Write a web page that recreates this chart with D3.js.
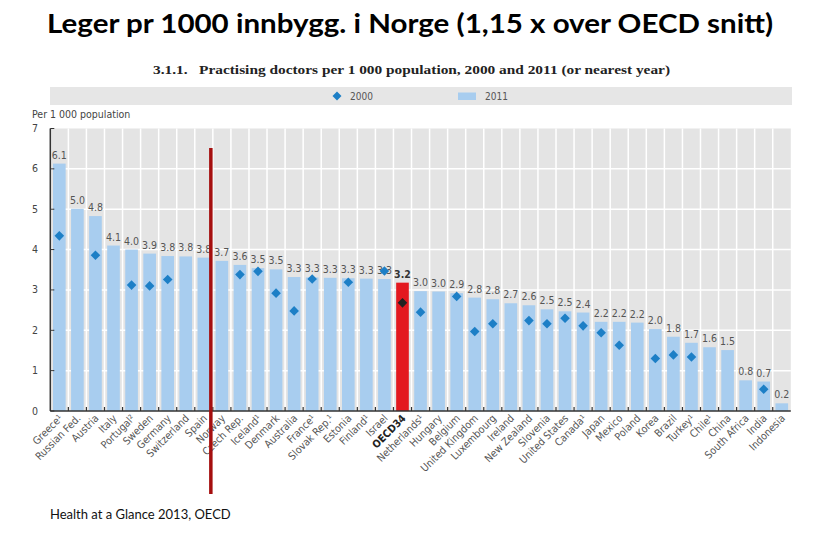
<!DOCTYPE html>
<html>
<head>
<meta charset="utf-8">
<script src="https://cdn.jsdelivr.net/npm/d3@7"></script>
<style>
  html, body { margin: 0; padding: 0; background: #fff; }
  svg { display: block; }
</style>
</head>
<body>
<script>
// ---------- DATA ----------
const countries = ["Greece¹", "Russian Fed.", "Austria", "Italy", "Portugal²", "Sweden", "Germany", "Switzerland", "Spain", "Norway",
  "Czech Rep.", "Iceland¹", "Denmark", "Australia", "France¹", "Slovak Rep.¹", "Estonia", "Finland¹", "Israel", "OECD34",
  "Netherlands¹", "Hungary", "Belgium", "United Kingdom", "Luxembourg", "Ireland", "New Zealand", "Slovenia", "United States", "Canada¹",
  "Japan", "Mexico", "Poland", "Korea", "Brazil", "Turkey¹", "Chile¹", "China", "South Africa", "India", "Indonesia"];
const values2011 = [6.13, 5.01, 4.83, 4.10, 4.00, 3.90, 3.84, 3.83, 3.80, 3.72,
  3.62, 3.54, 3.51, 3.32, 3.31, 3.30, 3.29, 3.28, 3.27, 3.18,
  2.97, 2.96, 2.92, 2.81, 2.77, 2.67, 2.62, 2.52, 2.47, 2.44,
  2.21, 2.21, 2.19, 2.03, 1.84, 1.69, 1.58, 1.51, 0.76, 0.73, 0.19];
const values2000 = [4.34, null, 3.86, null, 3.12, 3.10, 3.26, null, null, null,
  3.38, 3.46, 2.92, 2.48, 3.27, null, 3.19, null, 3.47, 2.68,
  2.45, null, 2.84, 1.97, 2.16, null, 2.24, 2.16, 2.30, 2.11,
  1.94, 1.63, null, 1.30, 1.39, 1.34, null, null, null, 0.54, null];
const yTicks = [0, 1, 2, 3, 4, 5, 6, 7];
const highlight = "OECD34";
const markerCountry = "Norway";
const mainTitle = "Leger pr 1000 innbygg. i Norge (1,15 x over OECD snitt)";
const subTitle = "3.1.1.   Practising doctors per 1 000 population, 2000 and 2011 (or nearest year)";
const yAxisTitle = "Per 1 000 population";
const legendLabels = ["2000", "2011"];
const source = "Health at a Glance 2013, OECD";

// ---------- STYLE ----------
const W = 827, H = 541;
const barColor = "#a8cdef", hiColor = "#e3191f", dotColor = "#1d7fc6", hiDot = "#222";
const gridBg = "#e4e4e4";
const condensed = "'Liberation Sans Narrow', 'Arial Narrow', 'DejaVu Sans Condensed', sans-serif";

const svg = d3.select("body").append("svg").attr("width", W).attr("height", H);

const x = d3.scaleBand().domain(countries).range([50.3, 790.8]).paddingInner(0.3).paddingOuter(0.15);
const y = d3.scaleLinear().domain([0, 7]).range([411, 128.5]);
const step = x.step();
const x0 = x.range()[0], x1 = x.range()[1];

// Titles
svg.append("text").attr("x", 47).attr("y", 33)
  .attr("font-family", "Lato, 'Open Sans', sans-serif").attr("font-weight", "bold")
  .attr("font-size", 27).attr("fill", "#000")
  .attr("textLength", 726).attr("lengthAdjust", "spacingAndGlyphs")
  .text(mainTitle);
svg.append("text").attr("x", 153).attr("y", 74)
  .attr("font-family", "'Liberation Serif', 'DejaVu Serif', serif").attr("font-weight", "bold")
  .attr("font-size", 13.5).attr("fill", "#222")
  .attr("textLength", 517).attr("lengthAdjust", "spacingAndGlyphs")
  .attr("xml:space", "preserve").style("white-space", "pre")
  .text(subTitle);

// Legend band
svg.append("rect").attr("x", 50).attr("y", 87).attr("width", 742).attr("height", 18).attr("fill", "#e6e6e6");
svg.append("path").attr("d", d3.symbol(d3.symbolSquare, 40)())
  .attr("transform", "translate(337,96) rotate(45)").attr("fill", dotColor);
svg.append("text").attr("x", 350).attr("y", 99.5).attr("font-family", condensed)
  .attr("font-size", 10).attr("fill", "#555").text(legendLabels[0]);
svg.append("rect").attr("x", 458).attr("y", 92.5).attr("width", 18).attr("height", 7.5).attr("fill", barColor);
svg.append("text").attr("x", 485).attr("y", 99.5).attr("font-family", condensed)
  .attr("font-size", 10).attr("fill", "#555").text(legendLabels[1]);

// y axis title
svg.append("text").attr("x", 32).attr("y", 118).attr("font-family", condensed)
  .attr("font-size", 10.5).attr("fill", "#444").text(yAxisTitle);

// Plot background
svg.append("rect").attr("x", x0).attr("y", y(7)).attr("width", x1 - x0).attr("height", y(0) - y(7)).attr("fill", gridBg);
// horizontal grid
svg.append("g").selectAll("line").data(yTicks.filter(d => d > 0 && d < 7)).join("line")
  .attr("x1", x0).attr("x2", x1).attr("y1", d => y(d)).attr("y2", d => y(d))
  .attr("stroke", "#fff").attr("stroke-width", 1.5);
// vertical separators (band boundaries)
svg.append("g").selectAll("line").data(countries.slice(1)).join("line")
  .attr("x1", d => x(d) - (step - x.bandwidth()) / 2).attr("x2", d => x(d) - (step - x.bandwidth()) / 2)
  .attr("y1", y(7)).attr("y2", y(0))
  .attr("stroke", "#fff").attr("stroke-width", 1.5);

// Bars
svg.append("g").selectAll("rect").data(countries).join("rect")
  .attr("x", d => x(d)).attr("width", x.bandwidth())
  .attr("y", (d, i) => y(values2011[i])).attr("height", (d, i) => y(0) - y(values2011[i]))
  .attr("fill", d => d === highlight ? hiColor : barColor);

// Value labels
svg.append("g").selectAll("text").data(countries).join("text")
  .attr("x", d => x(d) + x.bandwidth() / 2)
  .attr("y", (d, i) => y(values2011[i]) - 5)
  .attr("text-anchor", "middle").attr("font-family", condensed).attr("font-size", 10.5)
  .attr("font-weight", d => d === highlight ? "bold" : "normal")
  .attr("fill", d => d === highlight ? "#333" : "#555")
  .text((d, i) => values2011[i].toFixed(1));

// 2000 diamonds
svg.append("g").selectAll("path").data(countries.map((c, i) => ({ c, v: values2000[i] })).filter(d => d.v != null)).join("path")
  .attr("d", d3.symbol(d3.symbolSquare, 46)())
  .attr("transform", d => `translate(${x(d.c) + x.bandwidth() / 2},${y(d.v)}) rotate(45)`)
  .attr("fill", d => d.c === highlight ? hiDot : dotColor);

// x axis line and ticks
svg.append("line").attr("x1", x0).attr("x2", x1).attr("y1", y(0)).attr("y2", y(0))
  .attr("stroke", "#333").attr("stroke-width", 1.5);
svg.append("g").selectAll("line").data(countries.slice(1)).join("line")
  .attr("x1", d => x(d) - (step - x.bandwidth()) / 2).attr("x2", d => x(d) - (step - x.bandwidth()) / 2)
  .attr("y1", y(0)).attr("y2", y(0) - 4)
  .attr("stroke", "#333").attr("stroke-width", 1.2);

// x labels
svg.append("g").selectAll("text").data(countries).join("text")
  .attr("transform", d => `translate(${x(d) + x.bandwidth() / 2 + 4},${y(0) + 8}) rotate(-45)`)
  .attr("text-anchor", "end").attr("font-family", condensed).attr("font-size", 10.5)
  .attr("font-weight", d => d === highlight ? "bold" : "normal")
  .attr("fill", d => d === highlight ? "#222" : "#555")
  .text(d => d);

// y axis
const yAxis = svg.append("g");
yAxis.append("line").attr("x1", x0).attr("x2", x0).attr("y1", y(7)).attr("y2", y(0)).attr("stroke", "#333").attr("stroke-width", 1.5);
yAxis.selectAll("line.t").data(yTicks).join("line").attr("class", "t")
  .attr("x1", x0).attr("x2", x0 + 4).attr("y1", d => y(d)).attr("y2", d => y(d)).attr("stroke", "#333");
yAxis.selectAll("text").data(yTicks).join("text")
  .attr("x", 38).attr("y", d => y(d) + 3.5).attr("text-anchor", "end")
  .attr("font-family", condensed).attr("font-size", 10.5).attr("fill", "#444")
  .text(d => d);

// Red marker line (between Spain and Norway)
const mx = x(markerCountry) - (step - x.bandwidth()) / 2 - 2;
svg.append("line").attr("x1", mx).attr("x2", mx).attr("y1", 148).attr("y2", 494)
  .attr("stroke", "#a50f0f").attr("stroke-width", 3.5);

// Source
svg.append("text").attr("x", 50).attr("y", 519)
  .attr("font-family", "Lato, 'Open Sans', sans-serif").attr("font-size", 13).attr("fill", "#111")
  .text(source);
</script>
</body>
</html>
